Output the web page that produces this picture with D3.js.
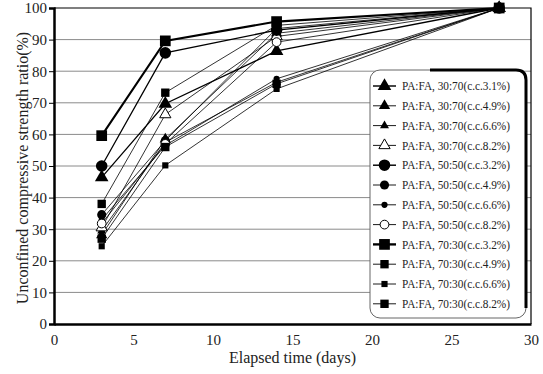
<!DOCTYPE html>
<head>
<meta charset="utf-8">
<title>UCS ratio</title>
<style>
  body { margin:0; background:#fff; }
  svg { display:block; font-family:"Liberation Serif", "Times New Roman", serif; }
  .grid line { stroke:#8a8a8a; stroke-width:1; }
  .axis text { font-family:"Liberation Serif", serif; font-size:15px; fill:#222; }
  .axis path, .axis line { stroke:#000; }
</style>
</head>
<body>
<script src="https://cdn.jsdelivr.net/npm/d3@7"></script>
<script>
// elapsed days and strength ratios (%) per mix
var days = [3, 7, 14, 28];
var seriesNames = [
  "PA:FA, 30:70(c.c.3.1%)", "PA:FA, 30:70(c.c.4.9%)", "PA:FA, 30:70(c.c.6.6%)", "PA:FA, 30:70(c.c.8.2%)",
  "PA:FA, 50:50(c.c.3.2%)", "PA:FA, 50:50(c.c.4.9%)", "PA:FA, 50:50(c.c.6.6%)", "PA:FA, 50:50(c.c.8.2%)",
  "PA:FA, 70:30(c.c.3.2%)", "PA:FA, 70:30(c.c.4.9%)", "PA:FA, 70:30(c.c.6.6%)", "PA:FA, 70:30(c.c.8.2%)"
];
var ratio3070 = [
  [46.4, 69.7, 86.4, 100],
  [28.2, 58.5, 92.0, 100],
  [29.5, 57.5, 76.5, 100],
  [30.5, 66.3, 91.0, 100]
];
var ratio5050 = [
  [50.0, 85.8, 93.0, 100],
  [34.6, 58.0, 93.5, 100],
  [33.0, 56.5, 77.6, 100],
  [31.8, 57.0, 89.2, 100]
];
var ratio7030 = [
  [59.6, 89.6, 95.7, 100],
  [38.0, 73.2, 94.5, 100],
  [24.6, 50.2, 74.4, 100],
  [27.0, 56.0, 76.0, 100]
];
var xTicks = [0, 5, 10, 15, 20, 25, 30];
var yTicks = [0, 10, 20, 30, 40, 50, 60, 70, 80, 90, 100];

var allRatios = ratio3070.concat(ratio5050, ratio7030);

// marker look per series (kept apart from the data)
var styles = [
  {shape:d3.symbolTriangle, size:80, fill:"#000", lw:1.6},
  {shape:d3.symbolTriangle, size:55, fill:"#000", lw:1},
  {shape:d3.symbolTriangle, size:35, fill:"#000", lw:1},
  {shape:d3.symbolTriangle, size:55, fill:"#fff", lw:1},
  {shape:d3.symbolCircle, size:105, fill:"#000", lw:1.6},
  {shape:d3.symbolCircle, size:65, fill:"#000", lw:1},
  {shape:d3.symbolCircle, size:30, fill:"#000", lw:1},
  {shape:d3.symbolCircle, size:60, fill:"#fff", lw:1},
  {shape:d3.symbolSquare, size:115, fill:"#000", lw:2.6},
  {shape:d3.symbolSquare, size:70, fill:"#000", lw:1},
  {shape:d3.symbolSquare, size:38, fill:"#000", lw:1},
  {shape:d3.symbolSquare, size:70, fill:"#000", lw:1}
];

var width = 543, height = 374;
var m = {left:54, right:12, top:8, bottom:50};

var svg = d3.select("body").append("svg")
  .attr("width", width).attr("height", height);

var x = d3.scaleLinear().domain([0, 30]).range([m.left, width - m.right]);
var y = d3.scaleLinear().domain([0, 100]).range([height - m.bottom, m.top]);

// gridlines
svg.append("g").attr("class", "grid")
  .selectAll("line").data(yTicks.slice(1, -1)).enter().append("line")
  .attr("x1", x(0)).attr("x2", x(30))
  .attr("y1", function(d){ return y(d); }).attr("y2", function(d){ return y(d); });

// frame top/right
svg.append("path")
  .attr("d", "M" + x(0) + "," + y(100) + "H" + x(30) + "V" + y(0))
  .attr("fill", "none").attr("stroke", "#000").attr("stroke-width", 1.2);

// axes
var gx = svg.append("g").attr("class", "axis")
  .attr("transform", "translate(0," + y(0) + ")")
  .call(d3.axisBottom(x).tickValues(xTicks).tickSize(0).tickPadding(10));
gx.select(".domain").attr("stroke-width", 2.5);

var gy = svg.append("g").attr("class", "axis")
  .attr("transform", "translate(" + x(0) + ",0)")
  .call(d3.axisLeft(y).tickValues(yTicks).tickSize(5).tickPadding(2));
gy.select(".domain").attr("stroke-width", 2.5);

svg.selectAll(".axis text")
  .style("font-family", "'Liberation Serif', serif")
  .style("font-size", "15px");

// series lines
var line = d3.line()
  .x(function(d, i){ return x(days[i]); })
  .y(function(d){ return y(d); });

svg.append("g").selectAll("path").data(allRatios).enter().append("path")
  .attr("d", line)
  .attr("fill", "none")
  .attr("stroke", "#000")
  .attr("stroke-width", function(d, i){ return styles[i].lw * 0.8; });

// markers
allRatios.forEach(function(vals, i) {
  var st = styles[i];
  svg.append("g").selectAll("path").data(vals).enter().append("path")
    .attr("transform", function(d, j){ return "translate(" + x(days[j]) + "," + y(d) + ")"; })
    .attr("d", d3.symbol().type(st.shape).size(st.size))
    .attr("fill", st.fill)
    .attr("stroke", "#000")
    .attr("stroke-width", st.fill === "#fff" ? 1 : 0);
});

// axis titles
svg.append("text")
  .attr("x", (x(0) + x(30)) / 2).attr("y", 363)
  .attr("text-anchor", "middle")
  .style("font-size", "16px").attr("fill", "#222")
  .text("Elapsed time (days)");

svg.append("text")
  .attr("transform", "translate(22," + 168 + ") rotate(-90)")
  .attr("text-anchor", "middle").attr("dy", "0.35em")
  .style("font-size", "16px").attr("fill", "#222")
  .text("Unconfined compressive strength ratio(%)");

// legend
var lx0 = 370, lx1 = 526, ly0 = 70, ly1 = 318, r = 10;
var leg = svg.append("g");
leg.append("rect")
  .attr("x", lx0).attr("y", ly0).attr("width", lx1 - lx0).attr("height", ly1 - ly0)
  .attr("rx", r).attr("fill", "#fff").attr("stroke", "#666").attr("stroke-width", 1);
leg.append("path")
  .attr("d", "M" + (lx0 + 60) + "," + ly0 + "H" + (lx1 - r) + "Q" + lx1 + "," + ly0 + " " + lx1 + "," + (ly0 + r) + "V" + (ly1 - r))
  .attr("fill", "none").attr("stroke", "#000").attr("stroke-width", 3);

var rows = leg.selectAll(".row").data(seriesNames).enter().append("g")
  .attr("transform", function(d, i){ return "translate(0," + (86 + i * 19.8) + ")"; });
rows.append("line")
  .attr("x1", 373).attr("x2", 396)
  .attr("stroke", "#000")
  .attr("stroke-width", function(d, i){ return styles[i].lw * 0.9; });
rows.append("path")
  .attr("transform", "translate(384.5,0)")
  .attr("d", function(d, i){ return d3.symbol().type(styles[i].shape).size(styles[i].size)(); })
  .attr("fill", function(d, i){ return styles[i].fill; })
  .attr("stroke", "#000")
  .attr("stroke-width", function(d, i){ return styles[i].fill === "#fff" ? 1 : 0; });
rows.append("text")
  .attr("x", 402).attr("dy", "0.35em")
  .style("font-size", "12px").attr("fill", "#222")
  .attr("textLength", 108).attr("lengthAdjust", "spacingAndGlyphs")
  .text(function(d){ return d; });
</script>
</body>
